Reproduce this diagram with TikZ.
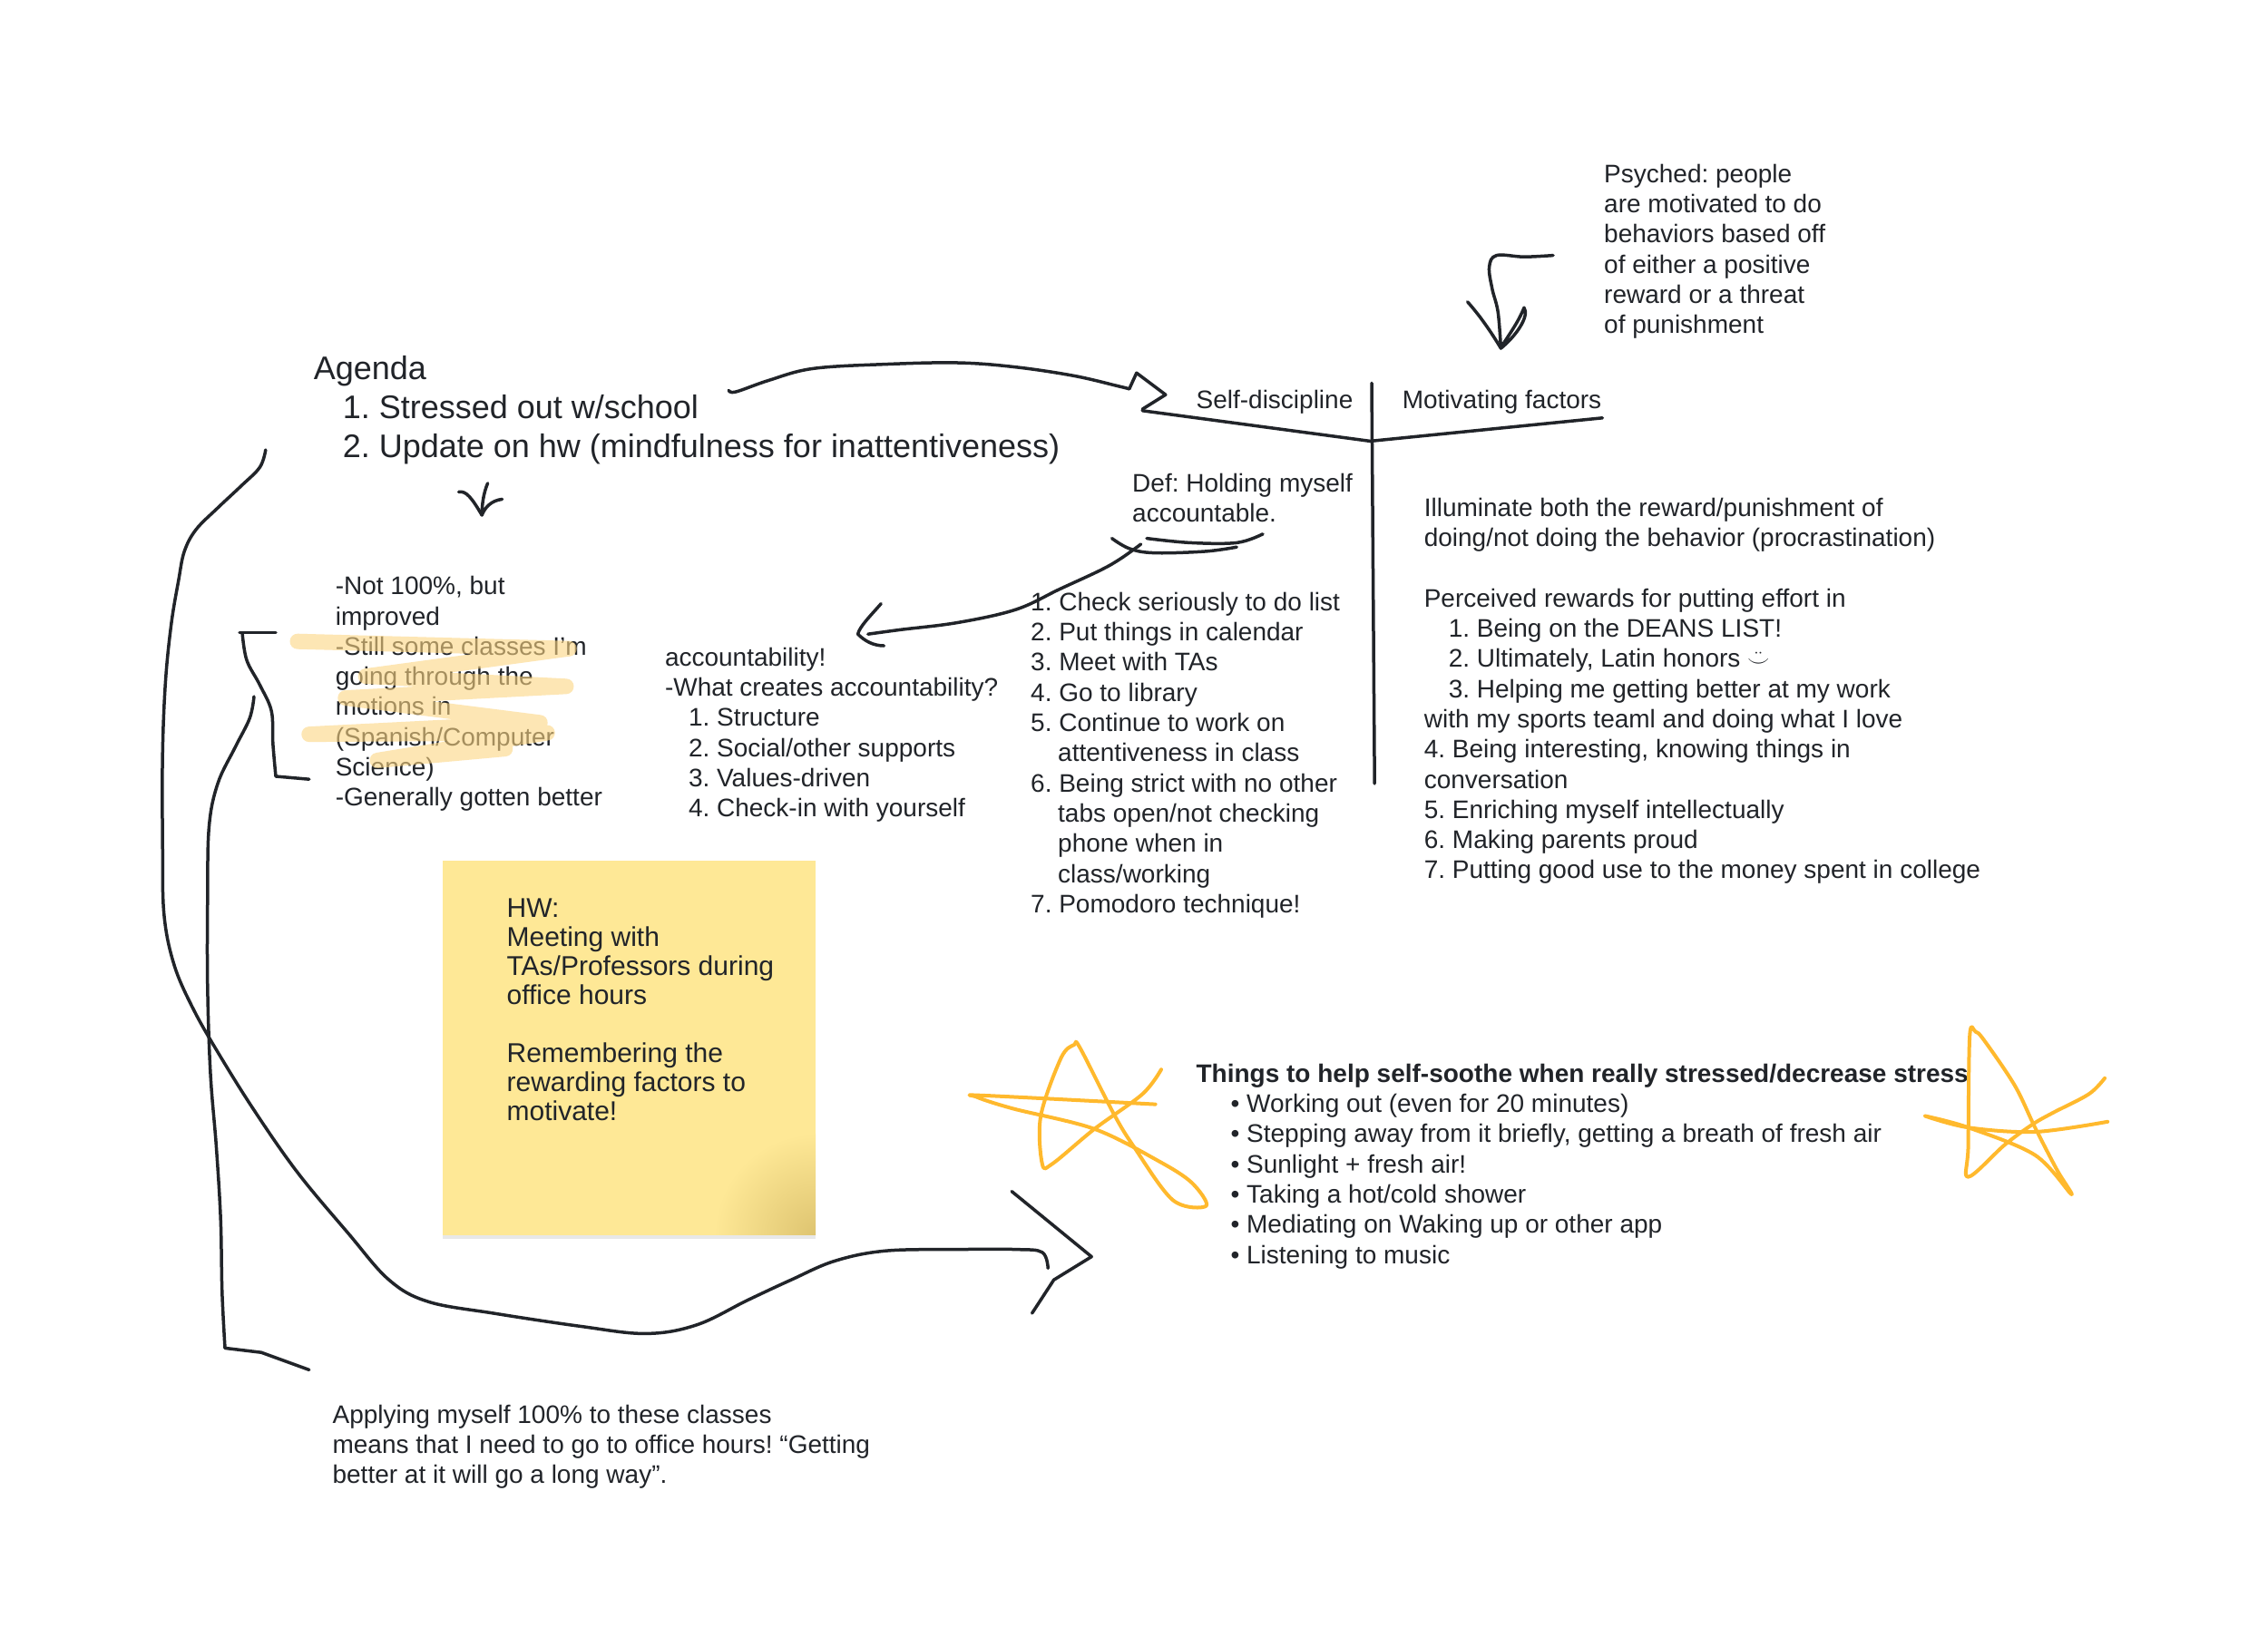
\documentclass[tikz,border=0pt]{standalone}
\usepackage{fontspec}
\setmainfont{Liberation Sans}
\usetikzlibrary{shadows}
\frenchspacing

\definecolor{ink}{RGB}{33,36,41}
\definecolor{starorange}{RGB}{255,185,45}
\definecolor{highlight}{RGB}{253,214,130}
\definecolor{sticky}{RGB}{254,232,150}
\definecolor{stickydark}{RGB}{222,196,112}

\tikzset{
  note/.style={anchor=north west, inner sep=0pt, align=left, text=ink,
    font=\fontsize{28}{33.3}\selectfont\frenchspacing},
  bignote/.style={note, font=\fontsize{36}{43}\selectfont\frenchspacing},
  stickytext/.style={note, font=\fontsize{30}{32}\selectfont\frenchspacing},
  pen/.style={draw=ink, line width=3.5pt, line cap=round, line join=round},
  marker/.style={draw=highlight, line width=17pt, line cap=round, line join=round, opacity=0.6},
  starpen/.style={draw=starorange, line width=4pt, line cap=round, line join=round},
}

\begin{document}
\begin{tikzpicture}[x=1.6pt, y=-1.6pt]
        % page
        \fill[white] (0,0) rectangle (1562.5,1134.4);
        \useasboundingbox (0,0) rectangle (1562.5,1134.4);

        % Agenda
        \node[bignote] (agenda) at (216,245) {Agenda\\
          \hspace*{32pt}1. Stressed out w/school\\
          \hspace*{32pt}2. Update on hw (mindfulness for inattentiveness)};

        % Psych note top right
        \node[note] (psyched) at (1105,113) {Psyched: people\\are motivated to do\\behaviors based off\\of either a positive\\reward or a threat\\of punishment};

        % Headings of the two columns
        \node[note] (selfdisc) at (824,269) {Self-discipline};
        \node[note] (motive) at (966,269) {Motivating factors};

        % Definition
        \node[note] (defn) at (780,326) {Def: Holding myself\\accountable.};

        % Self-discipline list
        \node[note] (checklist) at (710,408) {1. Check seriously to do list\\
          2. Put things in calendar\\
          3. Meet with TAs\\
          4. Go to library\\
          5. Continue to work on\\
          \hspace*{30pt}attentiveness in class\\
          6. Being strict with no other\\
          \hspace*{30pt}tabs open/not checking\\
          \hspace*{30pt}phone when in\\
          \hspace*{30pt}class/working\\
          7. Pomodoro technique!};

        % Motivating factors list
        \node[note] (rewards) at (981,343) {Illuminate both the reward/punishment of\\
          doing/not doing the behavior (procrastination)\\[33.3pt]
          Perceived rewards for putting effort in\\
          \hspace*{27pt}1. Being on the DEANS LIST!\\
          \hspace*{27pt}2. Ultimately, Latin honors {\fontsize{24}{24}\selectfont$\ddot\smile$}\\
          \hspace*{27pt}3. Helping me getting better at my work\\
          with my sports teaml and doing what I love\\
          4. Being interesting, knowing things in\\
          conversation\\
          5. Enriching myself intellectually\\
          6. Making parents proud\\
          7. Putting good use to the money spent in college};

        % Accountability
        \node[note] (account) at (458,446) {accountability!\\
          -What creates accountability?\\
          \hspace*{26pt}1. Structure\\
          \hspace*{26pt}2. Social/other supports\\
          \hspace*{26pt}3. Values-driven\\
          \hspace*{26pt}4. Check-in with yourself};

        % Update on hw
        \node[note] (update) at (231,397) {-Not 100\%, but\\improved\\-Still some classes I’m\\going through the\\motions in\\(Spanish/Computer\\Science)\\-Generally gotten better};
        % highlighter over it
        \draw[marker] (205,442) -- (392,447) -- (252,466) -- (390,473) -- (238,481)
          -- (372,498) -- (213,506) -- (377,505) -- (260,524) -- (348,516);

        % Sticky note
        \fill[sticky, drop shadow={opacity=0.18, shadow xshift=0pt, shadow yshift=-4pt}]
          (305,593) rectangle (562,851);
        \begin{scope}
          \clip (305,593) rectangle (562,851);
          \shade[inner color=stickydark, outer color=sticky] (562,851) circle (70);
        \end{scope}
        \node[stickytext] (hwtext) at (349,619) {HW:\\Meeting with\\TAs/Professors during\\office hours\\[32pt]
          Remembering the\\rewarding factors to\\motivate!};

        % Self-soothe list
        \node[note] (soothe) at (824,733) {\textbf{Things to help self-soothe when really stressed/decrease stress}\\
          \hspace*{38pt}• Working out (even for 20 minutes)\\
          \hspace*{38pt}• Stepping away from it briefly, getting a breath of fresh air\\
          \hspace*{38pt}• Sunlight + fresh air!\\
          \hspace*{38pt}• Taking a hot/cold shower\\
          \hspace*{38pt}• Mediating on Waking up or other app\\
          \hspace*{38pt}• Listening to music};

        % Office hours note
        \node[note] (officehrs) at (229,968) {Applying myself 100\% to these classes\\
          means that I need to go to office hours! “Getting\\
          better at it will go a long way”.};

        % The T chart
        \coordinate (fork) at (944,304);
        \draw[pen] (787,283) -- (fork) -- (1104,288);
        \draw[pen] (945,264) -- (947,540);

        % Arrow from agenda to the chart
        \draw[pen] plot[smooth, tension=0.6] coordinates {(502,269) (507,270) (530,262) (560,254)
          (610,251) (660,250) (700,253) (740,259) (770,266) (778,268)};
        \draw[pen] (778,268) -- (783,257) -- (803,272) -- (787,282);

        % Arrow down to the T chart from psyched
        \draw[pen] plot[smooth, tension=0.6] coordinates {(1070,176) (1050,177) (1031,176)
          (1026,184) (1028,199) (1032,215) (1034,240)};
        \draw[pen] (1011,208) .. controls (1020,218) and (1028,230) .. (1034,240)
          .. controls (1044,232) and (1054,218) .. (1050,212)
          .. controls (1046,222) and (1040,230) .. (1035,238);

        % Check mark under agenda
        \draw[pen] (316,339) .. controls (321,338) and (325,343) .. (332,355);
        \draw[pen] (336,333) .. controls (333,340) and (332,348) .. (332,355)
          .. controls (334,350) and (338,345) .. (346,344);

        % Underline of the definition and arrow to accountability
        \draw[pen] plot[smooth, tension=0.6] coordinates {(790,371) (820,374) (852,374) (870,368)};
        \draw[pen] plot[smooth, tension=0.6] coordinates {(766,371) (778,378) (795,381) (830,380) (852,377)};
        \draw[pen] plot[smooth, tension=0.6] coordinates {(786,375) (772,385) (758,393) (730,406)
          (700,420) (660,429) (620,434) (598,437)};
        \draw[pen] (607,416) .. controls (600,424) and (592,432) .. (591,437)
          .. controls (596,442) and (602,445) .. (609,445);

        % Bracket next to update
        \draw[pen] (165,436) -- (190,436);
        \draw[pen] plot[smooth, tension=0.6] coordinates {(167,437) (170,455) (179,472) (187,490)
          (188,512) (190,535)} -- (213,537);

        % Long curve round the left side to the self-soothe list
        \draw[pen] plot[smooth, tension=0.6] coordinates {(183,310) (179,322) (166,335) (150,350)
          (135,365) (127,380) (123,400) (118,430) (114,470) (112,520) (112,580) (113,630)
          (120,665) (133,695) (150,725) (175,765) (205,808) (240,850) (268,882) (295,897)
          (340,905) (400,914) (445,919) (480,913) (515,896) (545,882) (575,869) (610,862)
          (660,861) (700,861) (718,863) (722,874)};
        \draw[pen] (697,821) -- (752,866) -- (726,882) -- (711,905);

        % Inner line down to the office hours note
        \draw[pen] plot[smooth, tension=0.6] coordinates {(175,480) (172,495) (162,515) (150,540)
          (144,570) (143,620) (143,680) (145,740) (149,790) (152,840) (153,890) (155,929)}
          -- (180,932) -- (213,944);

        % Stars
        \draw[starpen] plot[smooth, tension=0.55] coordinates {(800,737) (787,754) (754,778)
          (725,802) (718,802) (717,769) (731,729) (740,720) (744,722) (767,767) (781,790)
          (808,827) (831,831) (821,815) (798,800) (754,778) (698,764) (673,756) (679,755) (796,761)};
        \draw[starpen] plot[smooth, tension=0.55] coordinates {(1450,743) (1439,754) (1414,767)
          (1400,775) (1381,789) (1356,811) (1356,789) (1357,714) (1361,711) (1367,717)
          (1388,748) (1402,777) (1417,806) (1427,823) (1402,796) (1356,777) (1326,769)
          (1356,777) (1402,780) (1452,773)};
\end{tikzpicture}
\end{document}
